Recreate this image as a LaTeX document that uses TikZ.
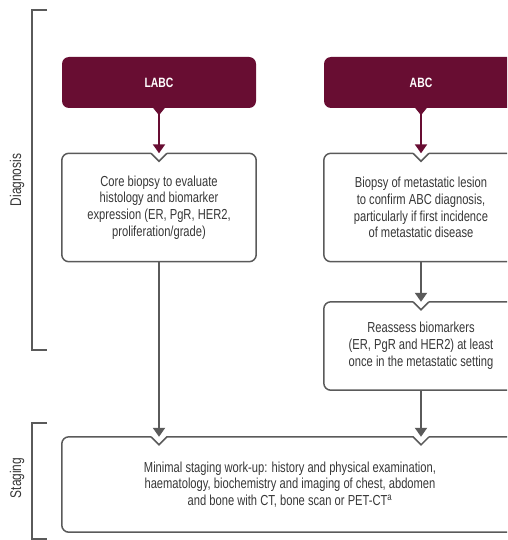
\documentclass[tikz,border=0pt]{standalone}
\usepackage{fontspec}
\setmainfont{Liberation Sans}[FakeStretch=0.77]
\usetikzlibrary{arrows.meta,calc}
\definecolor{maroon}{RGB}{104,13,50}
\definecolor{linegray}{RGB}{90,90,90}
\definecolor{textgray}{RGB}{55,55,55}
\begin{document}
\begin{tikzpicture}[x=1pt,y=-1pt,
  headbox/.style={rectangle, rounded corners=7pt, fill=maroon, text=white,
    font=\bfseries\fontsize{13.5}{15}\selectfont, minimum width=194pt,
    minimum height=51pt, inner sep=0pt},
  textbox/.style={rectangle, inner sep=0pt, align=center, text=textgray,
    font=\fontsize{14.5}{16.8}\selectfont},
  frame/.style={draw=linegray, line width=1.5pt, rounded corners=7pt},
  notch/.style={draw=linegray, line width=1.5pt, line join=miter},
  arr/.style={line width=2pt, -{Triangle[length=9pt,width=12pt]}},
  maroonarr/.style={arr, draw=maroon},
  grayarr/.style={arr, draw=linegray},
  bracket/.style={draw=linegray, line width=1.5pt},
  sidelabel/.style={rotate=90, text=textgray, inner sep=0pt,
    font=\fontsize{15.5}{17}\selectfont}]
\useasboundingbox (0,0) rectangle (507,540);
\clip (0,0) rectangle (507,540);

% brackets and side labels
\draw[bracket] (47,10) -- (32,10) -- (32,350) -- (47,350);
\draw[bracket] (47,423) -- (32,423) -- (32,539) -- (47,539);
\node[sidelabel] (diag) at (17,180) {Diagnosis};
\node[sidelabel] (stag) at (17,478) {Staging};

% head boxes
\node[headbox] (labc) at (159,82.5) {LABC};
\node[headbox] (abc) at (421,82.5) {ABC};

% text boxes
\node[textbox, minimum width=194pt, minimum height=108pt] (core) at (159,207.5)
  {Core biopsy to evaluate\\histology and biomarker\\expression (ER, PgR, HER2,\\proliferation/grade)};
\node[textbox, minimum width=194pt, minimum height=108pt] (biopsy) at (421,207.5)
  {Biopsy of metastatic lesion\\to confirm ABC diagnosis,\\particularly if first incidence\\of metastatic disease};
\node[textbox, minimum width=194pt, minimum height=88pt] (reassess) at (421,346)
  {Reassess biomarkers\\(ER, PgR and HER2) at least\\once in the metastatic setting};
\node[textbox, minimum width=456pt, minimum height=95pt] (staging) at (290,484.5)
  {Minimal staging work-up: history and physical examination,\\haematology, biochemistry and imaging of chest, abdomen\\and bone with CT, bone scan or PET-CT\textsuperscript{a}};

% frames with notches
\foreach \n in {core,biopsy,reassess}{
  \draw[frame] ($(\n.north)+(8,0)$) -- (\n.north east) -- (\n.south east)
    -- (\n.south west) -- (\n.north west) -- ($(\n.north)+(-8,0)$);
  \draw[notch] ($(\n.north)+(-8,0)$) -- ($(\n.north)+(0,8)$) -- ($(\n.north)+(8,0)$);
}
\coordinate (s1) at (core.south |- staging.north);
\coordinate (s2) at (reassess.south |- staging.north);
\draw[frame] ($(s2)+(8,0)$) -- (staging.north east) -- (staging.south east)
  -- (staging.south west) -- (staging.north west) -- ($(s1)+(-8,0)$);
\draw[notch] ($(s1)+(-8,0)$) -- ($(s1)+(0,8)$) -- ($(s1)+(8,0)$)
  -- ($(s2)+(-8,0)$) -- ($(s2)+(0,8)$) -- ($(s2)+(8,0)$);

% pointers under head boxes
\foreach \h in {labc,abc}{
  \fill[maroon] ($(\h.south)+(-6.5,-1)$) -- ($(\h.south)+(6.5,-1)$) -- ($(\h.south)+(0,7)$) -- cycle;
}

% connectors
\draw[maroonarr] (labc.south) -- (core.north);
\draw[maroonarr] (abc.south) -- (biopsy.north);
\draw[grayarr] (biopsy.south) -- (reassess.north);
\draw[grayarr] (reassess.south) -- (s2);
\draw[grayarr] (core.south) -- (s1);
\end{tikzpicture}
\end{document}
